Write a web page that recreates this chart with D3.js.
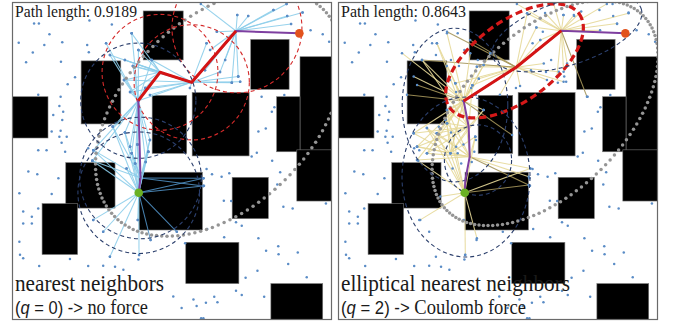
<!DOCTYPE html>
<html><head><meta charset="utf-8">
<script src="https://cdn.jsdelivr.net/npm/d3@7"></script>
<style>body{margin:0;background:#fff}svg{display:block}</style>
</head><body>
<svg id="chart" width="674" height="326"></svg>
<script>
// ---- shared planning environment (unit width, y grows downward) ----
const obstacles = [
  [0.410,0.028,0.535,0.181],[0.216,0.184,0.340,0.381],[0.000,0.296,0.1125,0.425],
  [0.438,0.292,0.546,0.473],[0.563,0.283,0.741,0.481],[0.746,0.117,0.866,0.273],
  [0.900,0.171,1.000,0.468],[0.827,0.296,0.900,0.468],[0.890,0.462,1.000,0.622],
  [0.168,0.502,0.322,0.644],[0.094,0.630,0.205,0.789],[0.397,0.532,0.595,0.7125],
  [0.688,0.548,0.801,0.677],[0.543,0.751,0.709,0.880],[0.809,0.880,0.971,0.994]
];
const samples = [
  [0.069,0.067],[0.084,0.067],[0.117,0.101],[0.021,0.127],[0.101,0.134],[0.157,0.126],[0.235,0.134],
  [0.242,0.058],[0.312,0.070],[0.065,0.158],[0.240,0.157],[0.044,0.188],[0.153,0.187],[0.197,0.235],
  [0.174,0.257],[0.152,0.296],[0.082,0.290],[0.148,0.325],[0.129,0.353],[0.157,0.369],[0.152,0.402],
  [0.124,0.405],[0.148,0.421],[0.155,0.440],[0.082,0.463],[0.108,0.463],[0.166,0.468],[0.238,0.457],
  [0.051,0.530],[0.079,0.538],[0.124,0.600],[0.145,0.551],[0.023,0.598],[0.082,0.645],[0.062,0.671],
  [0.035,0.692],[0.062,0.692],[0.035,0.655],[0.023,0.749],[0.035,0.801],[0.181,0.803],[0.238,0.825],
  [0.085,0.825],[0.322,0.827],[0.765,0.471],[0.813,0.496],[0.608,0.522],[0.625,0.538],[0.655,0.546],
  [0.679,0.535],[0.600,0.574],[0.838,0.532],[0.829,0.570],[0.662,0.621],[0.685,0.622],[0.848,0.640],
  [0.877,0.645],[0.981,0.630],[0.700,0.688],[0.718,0.699],[0.610,0.709],[0.541,0.754],[0.663,0.735],
  [0.770,0.738],[0.832,0.763],[0.794,0.777],[0.833,0.788],[0.893,0.783],[0.863,0.819],[0.921,0.860],
  [0.767,0.840],[0.730,0.862],[0.700,0.902],[0.718,0.916],[0.788,0.921],[0.632,0.921],[0.606,0.940],
  [0.642,0.938],[0.577,0.950],[0.591,0.988],[0.933,0.088],[0.971,0.101],[0.991,0.124],[0.780,0.296],
  [0.851,0.291],[0.820,0.329],[0.812,0.343],[0.793,0.395],[0.770,0.405],[0.749,0.483],[0.908,0.033],
  [0.872,0.069],[0.860,0.044],[0.858,0.006],[0.738,0.044],[0.704,0.041],[0.817,0.025],[0.640,0.093],
  [0.707,0.233],[0.687,0.252],[0.619,0.150],[0.374,0.098],[0.306,0.166],[0.294,0.129],[0.504,0.920],
  [0.567,0.930],[0.530,0.956],[0.598,0.988],[0.395,0.805],[0.348,0.837],[0.285,0.824],[0.025,0.790],
  [0.254,0.681],[0.285,0.718],[0.393,0.681],[0.397,0.791],[0.433,0.744],[0.254,0.463],[0.315,0.390],
  [0.251,0.496],[0.353,0.408],[0.369,0.452],[0.374,0.473],[0.431,0.431],[0.426,0.468],[0.598,0.551],
  [0.598,0.575],[0.306,0.796],[0.171,0.421],[0.160,0.343],[0.437,0.181],[0.608,0.129],[0.713,0.249],
  [0.650,0.219],[0.515,0.718],[0.416,0.269],[0.431,0.291],[0.369,0.281],[0.556,0.269],[0.603,0.213],
  [0.666,0.181],[0.353,0.181],[0.350,0.244],[0.385,0.505],[0.418,0.500],[0.358,0.520],[0.392,0.445],
  [0.378,0.200],[0.395,0.150]
];
const startPt = [0.396, 0.596];
const goalPt  = [0.898, 0.098];

// ---- per-planner results ----
const titles      = ["Path length: 0.9189", "Path length: 0.8643"];
const pathLengths = [0.9189, 0.8643];
const captionTop  = ["nearest neighbors", "elliptical nearest neighbors"];
const chargeQ     = ["0", "2"];
const forceLabel  = ["no force", "Coulomb force"];

// solution paths (start -> goal); the red stretch runs between the two indices
const pathNN  = [startPt,[0.4016,0.550],[0.3947,0.3084],[0.4625,0.2197],[0.5616,0.251],[0.700,0.0906],goalPt];
const pathENN = [startPt,[0.398,0.556],[0.4116,0.4834],[0.4084,0.3897],[0.3928,0.3094],[0.557,0.204],[0.698,0.0897],goalPt];
const redSpan = [[2,5],[4,6]];

// neighbour connections examined around each tree vertex
const fanNN = [
  {at:[0.700,0.0906], to:[[0.908,0.033],[0.872,0.069],[0.860,0.044],[0.858,0.006],[0.817,0.025],[0.738,0.044],[0.704,0.041],[0.640,0.093],[0.619,0.150],[0.707,0.233],[0.687,0.252],[0.650,0.219],[0.603,0.213],[0.666,0.181],[0.5616,0.251],[0.590,0.006]], dark:[]},
  {at:[0.5616,0.251], to:[[0.713,0.249],[0.707,0.233],[0.687,0.252],[0.650,0.219],[0.608,0.129],[0.437,0.181],[0.4625,0.2197],[0.3947,0.3084],[0.416,0.269],[0.431,0.291],[0.369,0.281],[0.556,0.269],[0.353,0.181],[0.350,0.244],[0.378,0.200]], dark:[]},
  {at:[0.4625,0.2197], to:[[0.374,0.098],[0.437,0.181],[0.353,0.181],[0.350,0.244],[0.3947,0.3084],[0.306,0.166],[0.416,0.269],[0.378,0.200],[0.395,0.150],[0.369,0.281]], dark:[]},
  {at:[0.3947,0.3084], to:[[0.374,0.098],[0.315,0.390],[0.353,0.408],[0.254,0.463],[0.251,0.496],[0.294,0.129],[0.306,0.166],[0.437,0.181],[0.350,0.244],[0.431,0.431],[0.369,0.452],[0.426,0.468],[0.374,0.473],[0.369,0.281],[0.385,0.505],[0.418,0.500],[0.392,0.445],[0.378,0.200],[0.395,0.150],[0.416,0.269]], dark:[]},
  {at:[0.4016,0.550], to:[[0.254,0.463],[0.251,0.496],[0.315,0.390],[0.353,0.408],[0.369,0.452],[0.431,0.431],[0.426,0.468],[0.392,0.445],[0.3947,0.3084],[0.374,0.473]], dark:[[0.598,0.551],[0.598,0.575]]},
  {at:[0.396,0.596], to:[[0.254,0.681],[0.285,0.718],[0.393,0.681],[0.397,0.791],[0.251,0.496],[0.254,0.463],[0.315,0.390],[0.353,0.408],[0.374,0.473],[0.426,0.468],[0.306,0.796],[0.385,0.505],[0.418,0.500],[0.358,0.520],[0.392,0.445],[0.431,0.431]], dark:[[0.598,0.551],[0.598,0.575],[0.433,0.744],[0.515,0.718]]}
];
const fanENN = [
  {at:[0.698,0.0897], to:[[0.705,0.041],[0.737,0.041],[0.840,0.006],[0.908,0.035],[0.872,0.067],[0.674,0.006],[0.591,0.035],[0.559,0.006],[0.632,0.119],[0.716,0.192],[0.705,0.218],[0.684,0.233],[0.647,0.034],[0.819,0.088],[0.557,0.204],[0.620,0.080],[0.760,0.030]], dark:[[0.778,0.296]]},
  {at:[0.557,0.204], to:[[0.476,0.160],[0.643,0.192],[0.690,0.218],[0.653,0.244],[0.705,0.249],[0.455,0.197],[0.3928,0.3094],[0.506,0.290],[0.569,0.2625],[0.632,0.119],[0.591,0.035],[0.440,0.240],[0.420,0.260],[0.3666,0.254],[0.434,0.202],[0.620,0.080]], dark:[[0.3406,0.093],[0.413,0.119],[0.2625,0.181]]},
  {at:[0.3928,0.3094], to:[[0.2625,0.181],[0.2365,0.233],[0.309,0.129],[0.3406,0.098],[0.4135,0.160],[0.434,0.202],[0.3666,0.254],[0.3406,0.3375],[0.3406,0.379],[0.309,0.410],[0.2365,0.410],[0.278,0.473],[0.351,0.473],[0.455,0.3375],[0.247,0.452],[0.247,0.494],[0.200,0.160],[0.340,0.200],[0.455,0.197],[0.476,0.160],[0.420,0.260],[0.440,0.240]], dark:[[0.2156,0.290],[0.247,0.259],[0.544,0.4156]]},
  {at:[0.4084,0.3897], to:[[0.309,0.410],[0.2365,0.410],[0.278,0.473],[0.351,0.473],[0.3406,0.379],[0.455,0.3375],[0.247,0.452],[0.3666,0.254],[0.3406,0.3375],[0.2625,0.181],[0.309,0.129],[0.420,0.260]], dark:[]},
  {at:[0.4116,0.4834], to:[[0.601,0.520],[0.596,0.546],[0.247,0.452],[0.247,0.494],[0.278,0.394],[0.3353,0.369],[0.429,0.421],[0.3928,0.3094],[0.309,0.410],[0.3406,0.3375],[0.351,0.473],[0.278,0.473]], dark:[[0.596,0.572]]},
  {at:[0.396,0.596], to:[[0.257,0.681],[0.320,0.608],[0.3978,0.790],[0.434,0.738],[0.247,0.494],[0.278,0.394],[0.3353,0.369],[0.429,0.421],[0.601,0.520],[0.351,0.473],[0.309,0.410],[0.3406,0.3375]], dark:[[0.596,0.572]]},
  {at:[0.351,0.473], to:[[0.3928,0.3094],[0.3406,0.379],[0.429,0.421],[0.455,0.3375],[0.247,0.452],[0.278,0.394],[0.2365,0.410]], dark:[]}
];
const fans = [fanNN, fanENN];

// neighbourhood regions: [cx, cy, rx, ry, rotation in degrees, kind]
const regionsNN = [
  [0.703,0.081,0.203,0.203,0,"red"],
  [0.4625,0.2197,0.181,0.181,0,"red"],
  [0.5616,0.251,0.180,0.180,0,"red"],
  [0.3947,0.3084,0.180,0.180,0,"navy"],
  [0.4016,0.550,0.190,0.190,0,"navy"],
  [0.396,0.596,0.190,0.190,0,"navy"]
];
const regionsENN = [
  [0.5516,0.184,0.250,0.125,-36,"focus"],
  [0.400,0.547,0.200,0.250,0,"navy"],
  [0.3656,0.322,0.165,0.240,0,"navy"],
  [0.4375,0.494,0.105,0.110,0,"navy"],
  [0.7156,0.097,0.244,0.100,-18,"navy"]
];
const regions = [regionsNN, regionsENN];

// ---- layout ----
const panelLeft = [12, 338], panelTop = 2, panelW = 320, panelH = 318;
const worldH = panelH / panelW;
const fanColor  = [["#8ccdea","#4f8fc2"],["#e6d898","#a4955a"]];
const regionStyle = {
  red:   {stroke:"#d42a2a", width:1.1, dash:"4,3"},
  navy:  {stroke:"#2b3f6c", width:1.1, dash:"4,3"},
  focus: {stroke:"#d41818", width:3.2, dash:"7,4"}
};
const titleWidth = [122, 125], captionWidth = [149, 229], forceWidth = [133, 185];
const serif = "'Liberation Serif','Times New Roman',serif";
const sans  = "'Liberation Sans',Arial,sans-serif";

const svg = d3.select("#chart");
const defs = svg.append("defs");

[0,1].forEach(i => {
  const x = d3.scaleLinear().domain([0,1]).range([panelLeft[i], panelLeft[i]+panelW]);
  const y = d3.scaleLinear().domain([0,worldH]).range([panelTop, panelTop+panelH]);
  const k = x(1) - x(0);

  defs.append("clipPath").attr("id","clip"+i).append("rect")
    .attr("x",x(0)).attr("y",y(0)).attr("width",panelW).attr("height",panelH);
  const g = svg.append("g").attr("clip-path",`url(#clip${i})`);

  g.append("rect").attr("x",x(0)).attr("y",y(0)).attr("width",panelW).attr("height",panelH).attr("fill","#fff");

  // obstacles
  g.selectAll(".obs").data(obstacles).join("rect")
    .attr("x",d=>x(d[0])).attr("y",d=>y(d[1]))
    .attr("width",d=>x(d[2])-x(d[0])).attr("height",d=>y(d[3])-y(d[1]))
    .attr("fill","#000").attr("stroke","#777").attr("stroke-width",0.6);

  // explored neighbour edges
  const edges = [], ends = [];
  fans[i].forEach(h => {
    h.to.forEach(t => { edges.push({a:h.at,b:t,dark:false}); ends.push(t); });
    h.dark.forEach(t => { edges.push({a:h.at,b:t,dark:true}); ends.push(t); });
  });
  g.selectAll(".edge").data(edges).join("line")
    .attr("x1",d=>x(d.a[0])).attr("y1",d=>y(d.a[1]))
    .attr("x2",d=>x(d.b[0])).attr("y2",d=>y(d.b[1]))
    .attr("stroke",d=>d.dark?fanColor[i][1]:fanColor[i][0])
    .attr("stroke-width",1.05).attr("stroke-opacity",0.9);

  // random samples
  g.selectAll(".smp").data(samples.concat(ends)).join("circle")
    .attr("cx",d=>x(d[0])).attr("cy",d=>y(d[1])).attr("r",1.25).attr("fill","#5a8cc6");

  // informed set boundary: ellipse with foci at start and goal, major axis = path length
  const cx = (startPt[0]+goalPt[0])/2, cy = (startPt[1]+goalPt[1])/2;
  const dx = goalPt[0]-startPt[0], dy = goalPt[1]-startPt[1];
  const dist = Math.hypot(dx,dy);
  const a = pathLengths[i]/2, c = dist/2, b = Math.sqrt(a*a-c*c);
  const ux = dx/dist, uy = dy/dist;
  const nDots = 132;
  const ring = d3.range(nDots).map(j => {
    const t = 2*Math.PI*j/nDots;
    return [cx + a*Math.cos(t)*ux - b*Math.sin(t)*uy, cy + a*Math.cos(t)*uy + b*Math.sin(t)*ux];
  });
  g.selectAll(".ring").data(ring).join("circle")
    .attr("cx",d=>x(d[0])).attr("cy",d=>y(d[1])).attr("r",1.75).attr("fill","#959595");

  // neighbourhood regions
  g.selectAll(".reg").data(regions[i]).join("ellipse")
    .attr("cx",d=>x(d[0])).attr("cy",d=>y(d[1]))
    .attr("rx",d=>d[2]*k).attr("ry",d=>d[3]*k)
    .attr("transform",d=>`rotate(${d[4]},${x(d[0])},${y(d[1])})`)
    .attr("fill","none")
    .attr("stroke",d=>regionStyle[d[5]].stroke)
    .attr("stroke-width",d=>regionStyle[d[5]].width)
    .attr("stroke-dasharray",d=>regionStyle[d[5]].dash);

  // solution path
  const path = [pathNN, pathENN][i];
  const line = d3.line().x(d=>x(d[0])).y(d=>y(d[1]));
  g.append("path").attr("d",line(path)).attr("fill","none")
    .attr("stroke","#7e3fa0").attr("stroke-width",2);
  g.append("path").attr("d",line(path.slice(redSpan[i][0], redSpan[i][1]+1))).attr("fill","none")
    .attr("stroke","#d41414").attr("stroke-width",3).attr("stroke-linejoin","round");

  g.append("circle").attr("cx",x(startPt[0])).attr("cy",y(startPt[1])).attr("r",4.3).attr("fill","#6ab023");
  g.append("circle").attr("cx",x(goalPt[0])).attr("cy",y(goalPt[1])).attr("r",4.3).attr("fill","#e2521c");

  // labels
  g.append("text").attr("x",x(0)+3).attr("y",16.5)
    .attr("font-family",serif).attr("font-size",17.5).attr("fill","#1a1a1a")
    .attr("textLength",titleWidth[i]).attr("lengthAdjust","spacingAndGlyphs").text(titles[i]);
  g.append("text").attr("x",x(0)+3).attr("y",291)
    .attr("font-family",serif).attr("font-size",23).attr("fill","#1a1a1a")
    .attr("textLength",captionWidth[i]).attr("lengthAdjust","spacingAndGlyphs").text(captionTop[i]);
  const t2 = g.append("text").attr("x",x(0)+3).attr("y",313.5).attr("fill","#1a1a1a")
    .attr("font-family",sans).attr("font-size",18)
    .attr("textLength",forceWidth[i]).attr("lengthAdjust","spacingAndGlyphs");
  t2.append("tspan").text("(");
  t2.append("tspan").attr("font-style","italic").text("q");
  t2.append("tspan").text(` = ${chargeQ[i]}) -> `);
  t2.append("tspan").attr("font-family",serif).attr("font-size",20).text(forceLabel[i]);

  // frame
  svg.append("rect").attr("x",x(0)+0.5).attr("y",y(0)+0.5).attr("width",panelW-1).attr("height",panelH-1)
    .attr("fill","none").attr("stroke","#6a6a6a").attr("stroke-width",1.2);
});
</script>
</body></html>
